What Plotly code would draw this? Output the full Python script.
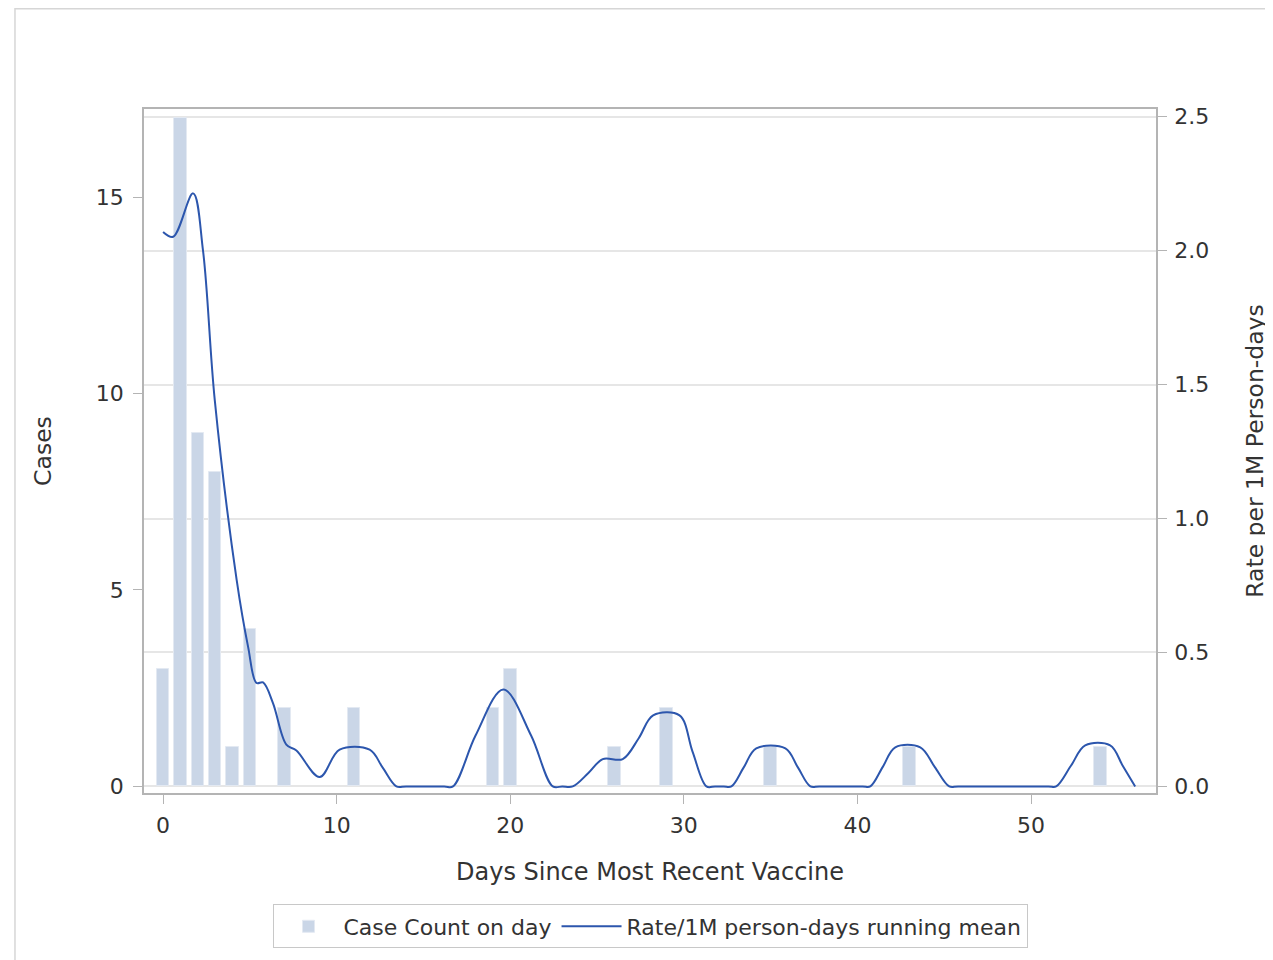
import plotly.graph_objects as go

# Bars: case counts per day
bar_days = [0, 1, 2, 3, 4, 5, 7, 11, 19, 20, 26, 29, 35, 43, 54]
bar_cases = [3, 17, 9, 8, 1, 4, 2, 2, 2, 3, 1, 2, 1, 1, 1]

# Line: running mean rate per 1M person-days
line_days = [0.0, 0.58, 1.73, 2.3, 2.98, 4.24, 4.9, 5.38, 5.76, 6.33, 7.1, 7.68,
             9.02, 10.17, 11.9, 12.67, 13.44, 14.0, 16.2, 16.7, 18.0,
             19.6, 21.2, 22.45, 23.0, 23.6, 24.5, 25.33, 26.48,
             27.4, 28.23, 29.75, 30.5, 31.3, 31.8, 32.3, 32.74,
             33.45, 34.17, 35.85, 36.57, 37.29, 37.8, 40.3, 40.74, 41.46, 42.18,
             43.62, 44.45, 45.29, 45.8, 51.0, 51.45, 52.3, 53.12, 54.56, 55.3, 56.0]
line_rate = [2.07, 2.052, 2.214, 2.0, 1.44, 0.77, 0.52, 0.386, 0.388, 0.311, 0.156, 0.134,
             0.035, 0.137, 0.137, 0.068, 0.0, 0.0, 0.0, 0.0, 0.19,
             0.362, 0.19, 0.0, 0.0, 0.0, 0.05, 0.102, 0.102,
             0.18, 0.265, 0.265, 0.13, 0.0, 0.0, 0.0, 0.0,
             0.071, 0.142, 0.142, 0.071, 0.0, 0.0, 0.0, 0.0, 0.073, 0.146,
             0.146, 0.073, 0.0, 0.0, 0.0, 0.0, 0.077, 0.153, 0.153, 0.075, 0.0]

x_ticks = [0, 10, 20, 30, 40, 50]
y_ticks = [0, 5, 10, 15]
y2_ticks = [0.0, 0.5, 1.0, 1.5, 2.0, 2.5]
y2_labels = ["0.0", "0.5", "1.0", "1.5", "2.0", "2.5"]

FONT = "DejaVu Sans"
TXT = "#333333"
FRAME = "#b4b4b4"

fig = go.Figure()
fig.add_trace(go.Bar(
    x=bar_days, y=bar_cases, width=0.72,
    marker=dict(color="#cad6e7", line=dict(color="#e3e9f2", width=1)),
    name="Case Count on day", yaxis="y",
))
fig.add_trace(go.Scatter(
    x=line_days, y=line_rate, mode="lines",
    line=dict(color="#2c56ad", width=2, shape="spline", smoothing=1.0),
    name="Rate/1M person-days running mean", yaxis="y2",
))

fig.update_layout(
    width=1273, height=960,
    margin=dict(l=136, r=125, t=101, b=175),
    paper_bgcolor="white", plot_bgcolor="white",
    font=dict(family=FONT, size=22, color=TXT),
    showlegend=True,
    bargap=0,
    legend=dict(
        orientation="h", x=0.5, xanchor="center", y=-0.163, yanchor="top",
        bordercolor="#c8c8c8", borderwidth=1, bgcolor="white",
        font=dict(family=FONT, size=22, color=TXT),
        itemwidth=60, tracegroupgap=0,
    ),
    xaxis=dict(
        range=[-1.1, 57.2], tickvals=x_ticks, ticks="outside", ticklen=9,
        tickcolor=FRAME, showline=True, linecolor=FRAME, linewidth=1.5, mirror=True,
        showgrid=False, zeroline=False, ticklabelstandoff=3,
        tickfont=dict(family=FONT, size=22, color=TXT),
        title=dict(text="Days Since Most Recent Vaccine", standoff=26,
                   font=dict(family=FONT, size=24, color=TXT)),
    ),
    yaxis=dict(
        range=[-0.168, 17.24], tickvals=y_ticks, ticks="outside", ticklen=9,
        tickcolor=FRAME, showline=True, linecolor=FRAME, linewidth=1.5, mirror=True,
        showgrid=False, zeroline=False, ticklabelstandoff=5,
        tickfont=dict(family=FONT, size=22, color=TXT),
        title=dict(text="Cases", standoff=38,
                   font=dict(family=FONT, size=23.5, color=TXT)),
    ),
    yaxis2=dict(
        overlaying="y", side="right",
        range=[-0.0246, 2.529], tickvals=y2_ticks, ticktext=y2_labels,
        ticks="outside", ticklen=9, tickcolor=FRAME,
        showline=True, linecolor=FRAME, linewidth=1.5, ticklabelstandoff=3,
        showgrid=True, gridcolor="#e6e6e6", gridwidth=1.5, zeroline=False,
        tickfont=dict(family=FONT, size=22, color=TXT),
        title=dict(text="Rate per 1M Person-days", standoff=38,
                   font=dict(family=FONT, size=23.5, color=TXT)),
    ),
    shapes=[dict(
        type="rect", xref="paper", yref="paper",
        x0=-0.1275, x1=1.13, y0=-0.27, y1=1.1465,
        line=dict(color="#d6d6d6", width=1.5), fillcolor="rgba(0,0,0,0)", layer="below",
    )],
)

fig.write_html("out.html")
